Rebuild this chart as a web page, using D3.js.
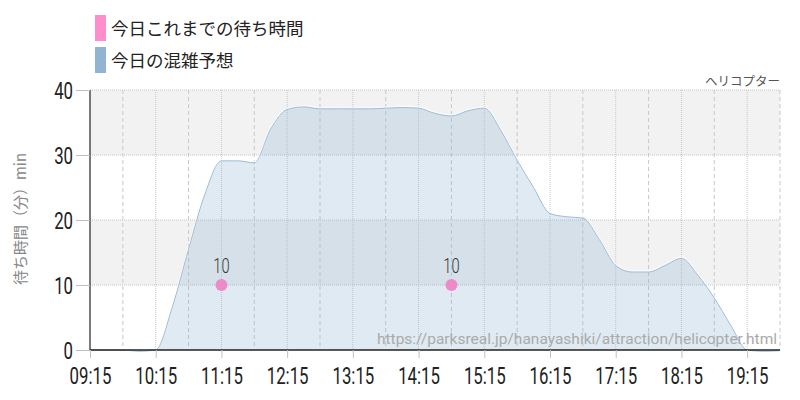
<!DOCTYPE html>
<html><head><meta charset="utf-8">
<script src="https://cdn.jsdelivr.net/npm/d3@7"></script>
<style>
body{margin:0;background:#fff;}
.cond{font-family:Roboto,"Liberation Sans",sans-serif;font-weight:400;}
.jp{font-family:"Noto Sans CJK JP","Noto Sans",sans-serif;}
</style></head>
<body><svg id="c" width="800" height="400"></svg>
<script>
const title = "ヘリコプター";
const legendLabels = ["今日これまでの待ち時間", "今日の混雑予想"];
const yTitle = "待ち時間（分）min";
const watermark = "https://parksreal.jp/hanayashiki/attraction/helicopter.html";
const forecastTimes = ["09:15","09:30","09:45","10:00","10:15","10:30","10:45","11:00","11:15","11:30","11:45","12:00","12:15","12:30","12:45","13:00","13:15","13:30","13:45","14:00","14:15","14:30","14:45","15:00","15:15","15:30","15:45","16:00","16:15","16:30","16:45","17:00","17:15","17:30","17:45","18:00","18:15","18:30","18:45","19:00","19:15","19:30","19:45"];
const forecastValues = [0,0,0,-0.2,0,6.5,15.5,24,29.1,29.1,28.8,34,37,37.4,37.1,37.1,37.1,37.1,37.2,37.3,37.2,36.4,36,36.8,37.2,33.8,29.2,25,21,20.5,20.3,17,13,12,12,13,14.1,11.5,8,3.8,0,-0.2,-0.1];
const actualTimes = ["11:15","14:45"];
const actualValues = [10,10];
const xTickLabels = ["09:15","10:15","11:15","12:15","13:15","14:15","15:15","16:15","17:15","18:15","19:15"];
const yTicks = [0,10,20,30,40];

const parse = d3.timeParse("%H:%M");
const svg = d3.select("#c");
const L=90,R=780,T=90,B=350;
const x = d3.scaleTime().domain([parse("09:15"), parse("19:45")]).range([L,R]);
const y = d3.scaleLinear().domain([0,40]).range([B,T]);
const SX = 0.7;

// bands
[[10,20],[30,40]].forEach(b=>{
  svg.append("rect").attr("x",L).attr("width",R-L).attr("y",y(b[1])).attr("height",y(b[0])-y(b[1])).attr("fill","#f2f2f2");
});
// horizontal grid
svg.append("g").selectAll("line").data(yTicks.filter(v=>v>0)).join("line")
  .attr("x1",L).attr("x2",R).attr("y1",d=>y(d)).attr("y2",d=>y(d))
  .attr("stroke","#c4c4c4").attr("stroke-dasharray","1,1");
// vertical grid: hourly dotted, half-hour dashed
const t0 = parse("09:15");
const gridTimes = d3.range(1, 22).map(k => d3.timeMinute.offset(t0, k*30));
svg.append("g").selectAll("line").data(gridTimes).join("line")
  .attr("x1",d=>x(d)).attr("x2",d=>x(d)).attr("y1",T).attr("y2",B)
  .attr("stroke","#c8c8c8")
  .attr("stroke-dasharray",d=>(d.getMinutes()===15)?"1,1":"4,3");

// area
const fdata = forecastTimes.map((t,i)=>({t:parse(t),v:forecastValues[i]}));
const area = d3.area().x(d=>x(d.t)).y0(y(0)).y1(d=>y(d.v)).curve(d3.curveMonotoneX);
const line = d3.line().x(d=>x(d.t)).y(d=>y(d.v)).curve(d3.curveMonotoneX);
svg.append("path").datum(fdata).attr("d",area).attr("fill","#91b4d2").attr("fill-opacity",0.28);
svg.append("path").datum(fdata).attr("d",line).attr("fill","none").attr("stroke","#fff").attr("stroke-width",2).attr("stroke-opacity",0.6).attr("transform","translate(0,-1)");
svg.append("path").datum(fdata).attr("d",line).attr("fill","none").attr("stroke","#9dbbd6").attr("stroke-width",1);

// watermark
svg.append("text").attr("x",777).attr("y",344).attr("text-anchor","end")
  .attr("font-family","Roboto, 'Open Sans', sans-serif").attr("font-size",15.5).attr("fill","#aaaaaa").text(watermark);

// axes
const xAxis = d3.axisBottom(x).tickValues(xTickLabels.map(parse)).tickFormat(d3.timeFormat("%H:%M")).tickSize(8).tickPadding(6);
const gx = svg.append("g").attr("transform",`translate(0,${B})`).call(xAxis);
gx.select(".domain").attr("stroke","#222").attr("stroke-width",1.5).attr("d",`M${L},0H${R}`);
gx.selectAll(".tick line").attr("stroke","#c0c0c0");
gx.selectAll(".tick text").attr("class","cond").attr("font-size",24).attr("fill","#222")
  .attr("y",34).attr("dy",0).attr("transform",`scale(${SX},1)`);

const yAxis = d3.axisLeft(y).tickValues(yTicks).tickSize(14).tickPadding(3);
const gy = svg.append("g").attr("transform",`translate(${L},0)`).call(yAxis);
gy.select(".domain").attr("stroke","#222").attr("stroke-width",1.2).attr("d",`M0,${T}V${B}`);
gy.selectAll(".tick line").attr("stroke","#c0c0c0");
gy.selectAll(".tick text").attr("class","cond").attr("font-size",24).attr("fill","#222")
  .attr("x",-17/SX).attr("dy",0).attr("y",8.5).attr("transform",`scale(${SX},1)`);

// actual points
const adata = actualTimes.map((t,i)=>({t:parse(t),v:actualValues[i]}));
svg.append("g").selectAll("circle").data(adata).join("circle")
  .attr("cx",d=>x(d.t)).attr("cy",d=>y(d.v)).attr("r",6).attr("fill","#ee8ac8");
svg.append("g").selectAll("text").data(adata).join("text")
  .attr("class","cond").attr("transform",d=>`translate(${x(d.t)},${y(d.v)-12}) scale(${SX},1)`)
  .attr("text-anchor","middle").style("font-weight",300)
  .attr("font-size",21).attr("fill","#333").text(d=>d.v);

// title
svg.append("text").attr("class","jp").attr("x",780).attr("y",86).attr("text-anchor","end")
  .attr("font-size",12.5).attr("fill","#555").text(title);

// y title
svg.append("text").attr("class","jp").attr("transform","translate(26,219) rotate(-90)").attr("text-anchor","middle")
  .attr("font-size",15).attr("fill","#888").text(yTitle);

// legend
const legColors = ["#ff8ccc","#91b4d2"];
legendLabels.forEach((l,i)=>{
  svg.append("rect").attr("x",95).attr("y",15+i*32).attr("width",11).attr("height",26).attr("fill",legColors[i]);
  svg.append("text").attr("class","jp").attr("x",111).attr("y",35+i*32).attr("font-size",17.5).attr("fill","#222").text(l);
});
</script></body></html>
